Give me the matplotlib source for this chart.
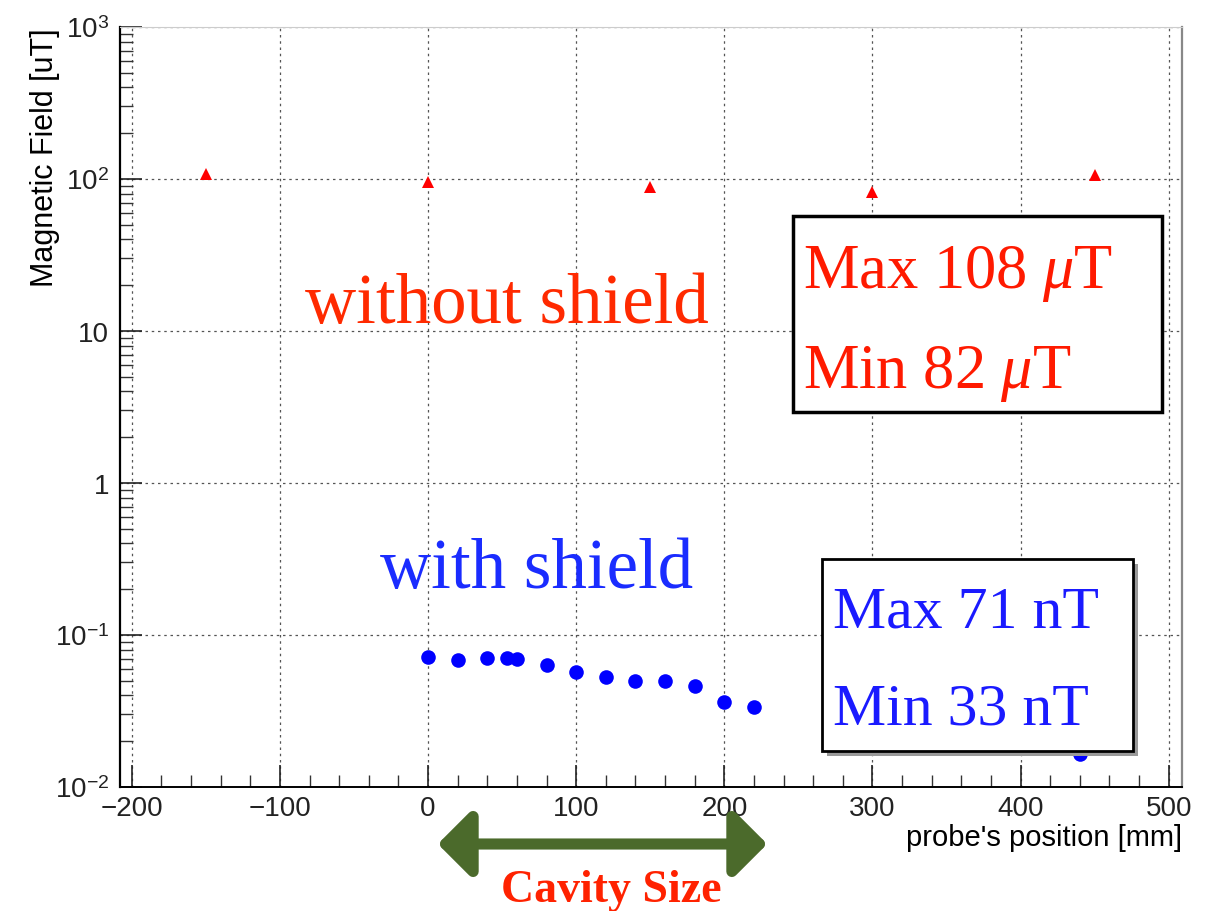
import matplotlib.pyplot as plt
from matplotlib.patches import FancyArrowPatch, Rectangle
from matplotlib.ticker import FixedLocator, FuncFormatter, LogLocator, MultipleLocator

# without shield (red triangles), uT
pos_noshield = [-150, 0, 150, 300, 450]
field_noshield = [108, 95, 89, 82, 107]

# with shield (blue dots), uT
pos_shield = [0, 20, 40, 53, 60, 80, 100, 120, 140, 160, 180, 200, 220, 440]
field_shield = [0.072, 0.068, 0.071, 0.071, 0.0695, 0.0635, 0.057, 0.053,
                0.050, 0.0495, 0.0465, 0.036, 0.0335, 0.0166]

y_ticks = [1e-2, 1e-1, 1, 10, 1e2, 1e3]
y_tick_labels = ['$10^{-2}$', '$10^{-1}$', '1', '10', '$10^{2}$', '$10^{3}$']

plt.rcParams['font.family'] = ['Liberation Sans', 'DejaVu Sans']
plt.rcParams['mathtext.fontset'] = 'custom'
plt.rcParams['mathtext.rm'] = 'Liberation Sans'
plt.rcParams['mathtext.it'] = 'Liberation Serif:italic'

W, H = 1217, 912
fig = plt.figure(figsize=(W / 100, H / 100), dpi=100)
ax = fig.add_axes([120 / W, 1 - 788 / H, 1062 / W, 760 / H])


def fx(px):
    return px / W


def fy(py):
    return 1 - py / H


ax.plot(pos_noshield, field_noshield, '^', color='red', markersize=8, markeredgewidth=0)
ax.plot(pos_shield, field_shield, 'o', color='blue', markersize=10.5, markeredgewidth=0)

ax.set_yscale('log')
ax.set_xlim(-208, 509)
ax.set_ylim(1e-2, 1e3)

ax.xaxis.set_major_locator(MultipleLocator(100))
ax.xaxis.set_minor_locator(MultipleLocator(20))
ax.yaxis.set_major_locator(FixedLocator(y_ticks))
ax.yaxis.set_major_formatter(FuncFormatter(lambda v, p: y_tick_labels[y_ticks.index(v)] if v in y_ticks else ''))
ax.yaxis.set_minor_locator(LogLocator(base=10, subs=range(2, 10)))
ax.yaxis.set_minor_formatter(FuncFormatter(lambda v, p: ''))

ax.tick_params(which='major', direction='in', length=16, width=1.2, labelsize=20, colors='#222222', pad=6)
ax.tick_params(which='minor', direction='in', length=9, width=1.0, colors='#333333')
ax.tick_params(axis='y', which='major', pad=8)

ax.grid(True, which='major', linestyle=(0, (2, 3)), color='#555555', linewidth=0.9)

ax.spines['left'].set_linewidth(1.6)
ax.spines['bottom'].set_linewidth(1.4)
ax.spines['top'].set_color('#cccccc')
ax.spines['right'].set_color('#888888')
ax.spines['right'].set_linewidth(1.6)

fig.text(fx(45), fy(28), 'Magnetic Field [uT]', rotation=90, ha='center', va='top', fontsize=22)
fig.text(fx(1182), fy(838), "probe's position [mm]", ha='right', va='center', fontsize=21)

serif = ['Liberation Serif', 'DejaVu Serif']

# labels on the plot
fig.text(fx(507), fy(323), 'without shield', color='#ff2a00', family=serif,
         fontsize=51, ha='center', va='baseline')
fig.text(fx(537), fy(588), 'with shield', color='#1a2cff', family=serif,
         fontsize=51, ha='center', va='baseline')

# red box
fig.patches.append(Rectangle((fx(793), fy(413)), 369 / W, 196 / H, transform=fig.transFigure,
                             fc='white', ec='black', lw=2.5, zorder=3))
fig.text(fx(803), fy(288), r'Max 108 $\mu$T', color='#ff1a00', family=serif,
         fontsize=45, ha='left', va='baseline', zorder=4)
fig.text(fx(803), fy(388), r'Min 82 $\mu$T', color='#ff1a00', family=serif,
         fontsize=45, ha='left', va='baseline', zorder=4)

# blue box with shadow
fig.patches.append(Rectangle((fx(827), fy(757)), 311 / W, 192 / H, transform=fig.transFigure,
                             fc='#999999', ec='none', zorder=2))
fig.patches.append(Rectangle((fx(822), fy(752)), 311 / W, 192 / H, transform=fig.transFigure,
                             fc='white', ec='black', lw=2.0, zorder=3))
fig.text(fx(833), fy(627), 'Max 71 nT', color='#1a1aff', family=serif,
         fontsize=43, ha='left', va='baseline', zorder=4)
fig.text(fx(833), fy(725), 'Min 33 nT', color='#1a1aff', family=serif,
         fontsize=43, ha='left', va='baseline', zorder=4)

# cavity size arrow
fig.patches.append(FancyArrowPatch(
    (fx(435), fy(845)), (fx(770), fy(845)), transform=fig.transFigure,
    arrowstyle='<|-|>,head_length=0.9,head_width=0.9', mutation_scale=22,
    color='#4b6a2b', lw=8, zorder=3))
fig.text(fx(611), fy(902), 'Cavity Size', color='#ff2200', family=serif,
         fontsize=33, fontweight='bold', ha='center', va='baseline')

fig.savefig('out.png', dpi=100)
